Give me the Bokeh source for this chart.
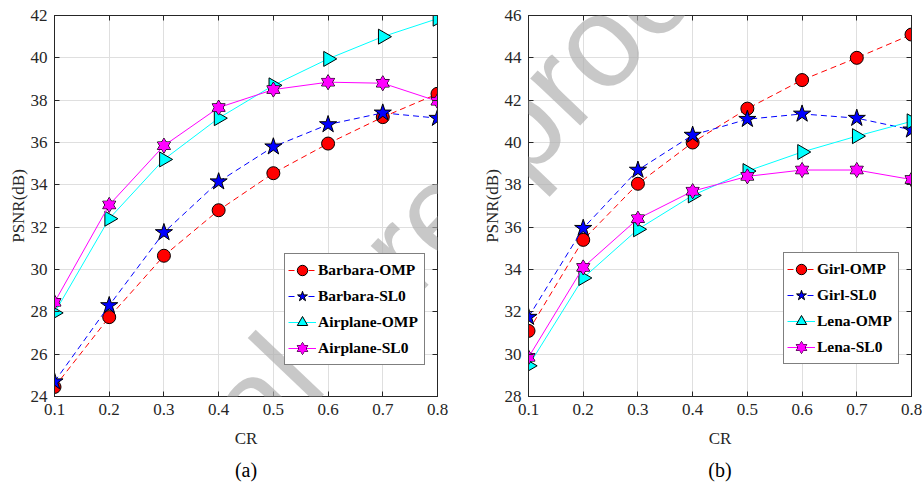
import math
from bokeh.plotting import figure
from bokeh.layouts import row
from bokeh.models import Range1d, LinearAxis, FixedTicker, Legend, LegendItem, Label, Title
from bokeh.embed import file_html
from bokeh.resources import INLINE

# ---------------- data ----------------
cr = [0.1, 0.2, 0.3, 0.4, 0.5, 0.6, 0.7, 0.8]
x_ticks = [0.1, 0.2, 0.3, 0.4, 0.5, 0.6, 0.7, 0.8]
x_tick_labels = ["0.1", "0.2", "0.3", "0.4", "0.5", "0.6", "0.7", "0.8"]

barbara_omp = [24.45, 27.75, 30.65, 32.8, 34.55, 35.95, 37.2, 38.3]
barbara_sl0 = [24.7, 28.3, 31.75, 34.15, 35.8, 36.85, 37.4, 37.15]
airplane_omp = [27.95, 32.4, 35.2, 37.15, 38.7, 39.95, 41.0, 41.85]
airplane_sl0 = [28.45, 33.05, 35.85, 37.65, 38.5, 38.85, 38.8, 37.95]
a_labels = ["Barbara-OMP", "Barbara-SL0", "Airplane-OMP", "Airplane-SL0"]
a_y_ticks = [24, 26, 28, 30, 32, 34, 36, 38, 40, 42]

girl_omp = [31.1, 35.4, 38.05, 40.0, 41.6, 42.95, 44.0, 45.1]
girl_sl0 = [31.75, 35.95, 38.7, 40.35, 41.1, 41.35, 41.15, 40.6]
lena_omp = [29.45, 33.6, 35.9, 37.5, 38.65, 39.55, 40.3, 41.0]
lena_sl0 = [29.85, 34.1, 36.4, 37.7, 38.4, 38.7, 38.7, 38.25]
b_labels = ["Girl-OMP", "Girl-SL0", "Lena-OMP", "Lena-SL0"]
b_y_ticks = [28, 30, 32, 34, 36, 38, 40, 42, 44, 46]

# ---------------- styling ----------------
AX = "#262626"
GRID = "#dfdfdf"
SERIF = "Liberation Serif"
W, H = 461, 490


def style_axis(ax, ticks, labels=None, show_labels=True, label_standoff=0):
    ax.ticker = FixedTicker(ticks=ticks)
    ax.axis_line_color = AX
    ax.axis_line_width = 1
    ax.major_tick_line_color = AX
    ax.major_tick_in = 5
    ax.major_tick_out = 0
    ax.minor_tick_line_color = None
    if show_labels:
        if labels is not None:
            ax.major_label_overrides = {t: l for t, l in zip(ticks, labels)}
        ax.major_label_text_font = SERIF
        ax.major_label_text_font_size = "17px"
        ax.major_label_text_color = AX
        ax.major_label_standoff = 7
        ax.axis_label_text_font = SERIF
        ax.axis_label_text_font_size = "17px"
        ax.axis_label_text_font_style = "normal"
        ax.axis_label_text_color = AX
        ax.axis_label_standoff = label_standoff
    else:
        ax.major_label_overrides = {t: "" for t in ticks}
        ax.major_label_text_font_size = "0px"
        ax.major_label_standoff = 0


def make_panel(series, labels, yr, yticks, left, right, top, bottom,
               legend_xy, label_w, caption, caption_dx, caption_standoff, wm_center):
    xr = (0.1, 0.8)
    p = figure(width=W, height=H, x_range=Range1d(*xr), y_range=Range1d(*yr),
               output_backend="svg", toolbar_location=None,
               min_border_left=left, min_border_right=W - right,
               min_border_top=top, min_border_bottom=H - bottom,
               x_axis_label="CR", y_axis_label="PSNR(dB)")
    p.background_fill_color = "white"
    p.border_fill_color = "white"
    p.outline_line_color = AX
    p.outline_line_width = 1

    style_axis(p.xaxis[0], x_ticks, x_tick_labels, label_standoff=11)
    style_axis(p.yaxis[0], yticks, [str(t) for t in yticks], label_standoff=0)
    ra = LinearAxis()
    style_axis(ra, yticks, show_labels=False)
    p.add_layout(ra, "right")
    ta = LinearAxis()
    style_axis(ta, x_ticks, show_labels=False)
    p.add_layout(ta, "above")

    p.xgrid.ticker = FixedTicker(ticks=x_ticks)
    p.ygrid.ticker = FixedTicker(ticks=yticks)
    p.grid.grid_line_color = GRID
    p.grid.grid_line_width = 1

    items = []
    # series 0: red dashed circle
    y0 = series[0]
    l0 = p.line(cr, y0, line_color="#ff0000", line_width=1, line_dash="6 4")
    m0 = p.scatter(cr, y0, marker="circle", size=13, fill_color="#ff0000",
                   line_color="black", line_width=1)
    items.append(LegendItem(label=labels[0], renderers=[l0, m0]))
    # series 1: blue dashed star
    y1 = series[1]
    l1 = p.line(cr, y1, line_color="#0000ff", line_width=1, line_dash="6 4")
    m1 = p.scatter(cr, y1, marker="star", size=18, fill_color="#0000ff",
                   line_color="black", line_width=1)
    items.append(LegendItem(label=labels[1], renderers=[l1, m1]))
    # series 2: cyan solid right-pointing triangle
    y2 = series[2]
    l2 = p.line(cr, y2, line_color="#00ffff", line_width=1)
    m2 = p.scatter(cr, y2, marker="triangle", size=15, angle=-math.pi / 2,
                   angle_units="rad", fill_color="#00ffff", line_color="black",
                   line_width=1)
    items.append(LegendItem(label=labels[2], renderers=[l2, m2]))
    # series 3: magenta solid hexagram (two overlapping triangles)
    y3 = series[3]
    l3 = p.line(cr, y3, line_color="#ff00ff", line_width=1)
    h1 = p.scatter(cr, y3, marker="triangle", size=13, fill_color="#ff00ff",
                   line_color="black", line_width=1)
    h2 = p.scatter(cr, y3, marker="inverted_triangle", size=13, fill_color="#ff00ff",
                   line_color="black", line_width=1)
    h3 = p.scatter(cr, y3, marker="triangle", size=12.4, fill_color="#ff00ff",
                   line_color=None)
    h4 = p.scatter(cr, y3, marker="inverted_triangle", size=12.4, fill_color="#ff00ff",
                   line_color=None)
    items.append(LegendItem(label=labels[3], renderers=[l3, h1, h2, h3, h4]))

    lg = Legend(items=items, location=legend_xy)
    lg.border_line_color = "black"
    lg.border_line_width = 1
    lg.background_fill_color = "white"
    lg.background_fill_alpha = 1
    lg.label_text_font = SERIF
    lg.label_text_font_style = "bold"
    lg.label_text_font_size = "15.5px"
    lg.label_text_color = "black"
    lg.glyph_width = 28
    lg.glyph_height = 26
    lg.label_height = 20
    lg.label_width = label_w
    lg.spacing = 0
    lg.padding = 3
    lg.label_standoff = 2
    lg.margin = 0
    p.add_layout(lg)

    # caption below the axis title
    p.add_layout(Title(text=caption, align="center", offset=caption_dx,
                       text_font=SERIF, text_font_size="20px",
                       text_font_style="normal", text_color="black",
                       standoff=caption_standoff), "below")

    # watermark in canvas pixel units
    p.add_layout(Label(x=wm_center[0], y=wm_center[1],
                       x_units="canvas", y_units="canvas",
                       text="Journal Pre-proof", angle=0.81,
                       text_align="center", text_baseline="middle",
                       text_font="Liberation Sans", text_font_size="130px",
                       text_color="#afafaf", text_alpha=0.69, level="overlay"))
    return p


p1 = make_panel([barbara_omp, barbara_sl0, airplane_omp, airplane_sl0], a_labels,
                (24, 42), a_y_ticks, 54, 437, 15, 396, (230, 31), 103, "(a)",
                228.5 - 245.5, 13, (349, 302))
p2 = make_panel([girl_omp, girl_sl0, lena_omp, lena_sl0], b_labels,
                (28, 46), b_y_ticks, 67, 450, 14, 397, (255, 32), 78, "(b)",
                702 - 719.5, 12, (349 - 461, 302))

layout = row(p1, p2, spacing=0)
open("out.html", "w").write(file_html(layout, INLINE))
